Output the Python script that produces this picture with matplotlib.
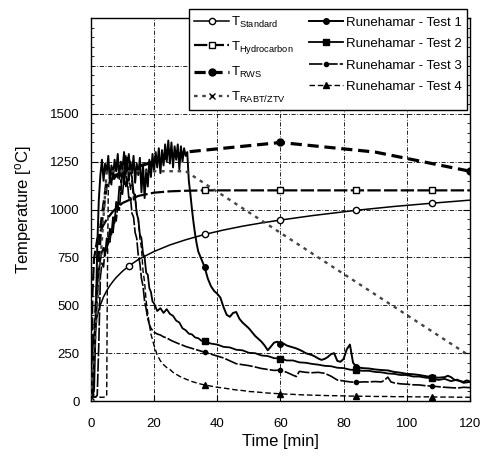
import numpy as np
import matplotlib.pyplot as plt
from matplotlib.ticker import MultipleLocator, FixedLocator

plt.rcParams['font.family'] = 'Liberation Sans'
plt.rcParams['mathtext.fontset'] = 'custom'
plt.rcParams['mathtext.rm'] = 'Liberation Sans'
plt.rcParams['mathtext.it'] = 'Liberation Sans:italic'

# --- standard fire curves ---
t_std = [0, 0.1, 0.25, 0.5, 1, 1.5, 2, 2.5, 3, 4, 5, 6, 7, 8, 10, 12, 15, 20, 25, 30,
         36, 42, 48, 54, 60, 70, 84, 96, 108, 120]
T_std = [20, 108, 185, 261, 349, 404, 445, 476, 502, 544, 576, 603, 625, 645, 678, 705, 739, 781, 815, 842,
         870, 893, 913, 930, 945, 968, 996, 1016, 1033, 1049]

t_hc = [0, 0.5, 1, 2, 3, 4, 5, 7, 10, 15, 20, 25, 30, 36, 60, 84, 108, 120]
T_hc = [20, 569, 744, 844, 887, 920, 948, 991, 1034, 1071, 1088, 1095, 1098, 1100, 1100, 1100, 1100, 1100]

t_rws = [0, 3, 5, 10, 30, 60, 90, 120]
T_rws = [20, 890, 1140, 1200, 1300, 1350, 1300, 1200]

t_rabt = [0, 5, 30, 120]
T_rabt = [20, 1200, 1200, 235]

# --- Runehamar test 1 ---
t1 = [0, 0.5, 1, 1.5, 2, 2.5] + list(np.arange(3, 31, 0.5)) + \
     [31, 31.5, 32, 32.5, 33, 33.5, 34] + list(range(35, 87)) + list(range(88, 113, 2)) + \
     [113, 114, 115, 116, 118, 119, 120]
T1 = [20, 22, 60, 400, 800, 1050] + \
     [1180, 1260, 1150, 1240, 1190, 1280, 1140, 1230, 1170, 1260,
      1200, 1290, 1160, 1250, 1210, 1300, 1180, 1270, 1150, 1250,
      1190, 1280, 1140, 1240, 1180, 1270, 1090, 1230, 1060, 1210,
      1120, 1260, 1170, 1290, 1200, 1300, 1220, 1320, 1190, 1310,
      1230, 1340, 1250, 1360, 1240, 1350, 1220, 1330, 1260, 1340,
      1210, 1330, 1250, 1320, 1280, 1300] + \
     [1150, 1080, 1000, 930, 870, 820, 780] + \
     [740, 700, 640, 600, 575, 560, 540, 490, 450, 440,
      460, 465, 430, 410, 395, 380, 360, 340, 325, 310,
      290, 265, 285, 305, 310, 300, 300, 290, 285, 280,
      275, 268, 260, 250, 245, 240, 232, 222, 215, 220,
      230, 245, 250, 210, 205, 220, 270, 295, 200, 180,
      175, 172] + \
     [170, 165, 162, 160, 152, 148, 142, 140, 136, 130, 125, 122, 125] + \
     [132, 125, 112, 108, 100, 108, 102]

# --- Runehamar test 2 ---
t2 = [0, 0.5, 1, 1.5] + list(np.arange(2, 20, 0.5)) + list(range(20, 37)) + list(range(38, 121, 2))
T2 = [20, 30, 200, 450] + \
     [600, 680, 740, 780, 800, 760, 850, 820, 900, 870,
      960, 930, 1040, 1010, 1120, 1100, 1200, 1180, 1280, 1240,
      1290, 1200, 1170, 1090, 1060, 980, 950, 870, 850, 770,
      750, 670, 660, 590, 570, 520] + \
     [510, 470, 485, 460, 480, 455, 445, 420, 410, 380, 370, 352, 348, 332, 328, 315, 312] + \
     [300, 295, 283, 280, 268, 265, 252, 250, 238, 235,
      224, 222, 212, 212, 202, 200, 194, 190, 184, 182,
      174, 172, 164, 162, 158, 158, 152, 150, 144, 142,
      136, 136, 128, 128, 122, 120, 110, 116, 104, 112,
      95, 100]

# --- Runehamar test 3 ---
t3 = [0, 1, 1.5, 2] + list(np.arange(2.5, 20, 0.5)) + list(range(20, 31)) + list(range(32, 63, 2)) + \
     [64, 65, 66] + list(range(68, 93, 2)) + [93, 94, 95] + list(range(96, 121, 2))
T3 = [20, 20, 22, 30] + \
     [300, 650, 720, 700, 800, 780, 850, 830, 900, 880,
      960, 940, 1020, 1000, 1100, 1080, 1170, 1120, 1160, 1060,
      1070, 980, 960, 880, 850, 760, 720, 640, 600, 520,
      480, 430, 400, 380, 370] + \
     [360, 350, 345, 335, 330, 320, 312, 305, 298, 292, 285] + \
     [275, 265, 255, 245, 235, 225, 210, 195, 190, 185, 178, 170, 165, 160, 162, 150] + \
     [135, 128, 155] + \
     [150, 148, 150, 145, 130, 110, 105, 100, 98, 100, 100, 102, 100] + \
     [110, 125, 100] + \
     [95, 90, 88, 85, 84, 80, 78, 75, 72, 70, 68, 72, 70]

# --- Runehamar test 4 ---
t4 = [0, 1, 2, 3, 4, 4.5, 5, 5.2] + list(np.arange(5.5, 20, 0.5)) + list(range(20, 31)) + list(range(32, 121, 2))
T4 = [20, 20, 20, 20, 20, 22, 25, 600] + \
     [1100, 1180, 1120, 1220, 1150, 1240, 1160, 1230, 1140, 1220,
      1130, 1210, 1120, 1190, 1100, 1150, 1050, 1080, 980, 950,
      850, 800, 680, 620, 520, 460, 400, 350, 320] + \
     [290, 240, 210, 190, 175, 165, 150, 140, 130, 122, 115] + \
     [102, 92, 84, 78, 72, 68, 63, 58, 55, 50,
      48, 45, 42, 40, 38, 36, 35, 33, 32, 31,
      30, 29, 28, 28, 27, 26, 26, 25, 25, 24,
      24, 24, 23, 23, 23, 22, 22, 22, 22, 21,
      21, 21, 20, 20, 20]

mark_times = [36, 60, 84, 108]


def marks(t, times):
    t = np.asarray(t, dtype=float)
    return [int(np.argmin(np.abs(t - m))) for m in times]


fig = plt.figure(figsize=(4.81, 4.61), dpi=100)
ax = fig.add_axes([0.189, 0.130, 0.788, 0.831])

# measured curves
l1, = ax.plot(t1, T1, color='black', lw=1.4, marker='o', ms=4, mfc='black',
              markevery=marks(t1, mark_times), label='Runehamar - Test 1')
l2, = ax.plot(t2, T2, color='black', lw=1.3, marker='s', ms=4.5, mfc='black',
              markevery=marks(t2, mark_times), label='Runehamar - Test 2')
l3, = ax.plot(t3, T3, color='black', lw=1.2, ls=(0, (8, 1.2)), marker='o', ms=3, mfc='black',
              markevery=marks(t3, mark_times), label='Runehamar - Test 3')
l4, = ax.plot(t4, T4, color='black', lw=1.0, ls=(0, (4, 2)), marker='^', ms=4, mfc='black',
              markevery=marks(t4, mark_times), label='Runehamar - Test 4')

# standard curves
ls_std, = ax.plot(t_std, T_std, color='black', lw=1.1, marker='o', ms=4.5, mfc='white',
                  markevery=marks(t_std, [12] + mark_times), label=r'T$_{\mathrm{Standard}}$', zorder=4)
ls_hc, = ax.plot(t_hc, T_hc, color='black', lw=1.6, ls=(0, (6, 1.5)), marker='s', ms=5, mfc='white',
                 markevery=marks(t_hc, mark_times), label=r'T$_{\mathrm{Hydrocarbon}}$', zorder=4)
ls_rws, = ax.plot(t_rws, T_rws, color='black', lw=2.3, ls=(0, (3.5, 1.8)), marker='o', ms=5, mfc='black',
                  markevery=[5, 7], label=r'T$_{\mathrm{RWS}}$', zorder=4)
ls_rabt, = ax.plot(t_rabt, T_rabt, color='#444444', lw=1.7, ls=(0, (1.5, 2)), marker='x', ms=5,
                   mec='black', markevery=[0], label=r'T$_{\mathrm{RABT/ZTV}}$', zorder=4)

ax.set_xlim(0, 120)
ax.set_ylim(0, 2000)
ax.xaxis.set_major_locator(MultipleLocator(20))
ax.yaxis.set_major_locator(FixedLocator([0, 250, 500, 750, 1000, 1250, 1500]))
ax.yaxis.set_minor_locator(MultipleLocator(50))
ax.grid(True, which='major', color='black', lw=0.6, ls=(0, (5, 2, 1, 2)))
# extra grid line at 1750 (no label)
ax.axhline(1750, color='black', lw=0.6, ls=(0, (5, 2, 1, 2)))

ax.tick_params(axis='y', which='both', direction='in', left=True, right=True, labelsize=9.5, pad=8)
ax.tick_params(axis='y', which='major', length=5)
ax.tick_params(axis='y', which='minor', length=2.5)
ax.tick_params(axis='x', which='major', direction='in', length=4, labelsize=9.5, pad=12)
for s in ax.spines.values():
    s.set_linewidth(1.0)

ax.set_xlabel('Time [min]', fontsize=12)
ax.set_ylabel(r'Temperature [$^{\mathrm{o}}$C]', fontsize=12)
ax.xaxis.set_label_coords(0.5, -0.086)
ax.yaxis.set_label_coords(-0.15, 0.5)

handles = [ls_std, ls_hc, ls_rws, ls_rabt, l1, l2, l3, l4]
leg = ax.legend(handles=handles, labels=[h.get_label() for h in handles], ncol=2,
                loc='lower left', bbox_to_anchor=(0.259, 0.760, 0.733, 0.274), mode='expand',
                fontsize=9.5, frameon=True, fancybox=False, framealpha=1, edgecolor='black',
                handlelength=2.6, handletextpad=0.2, borderaxespad=0, labelspacing=0.7,
                numpoints=1, borderpad=0.4)
leg.get_frame().set_linewidth(1.0)
leg.set_zorder(10)

fig.savefig('out.png', dpi=100)
